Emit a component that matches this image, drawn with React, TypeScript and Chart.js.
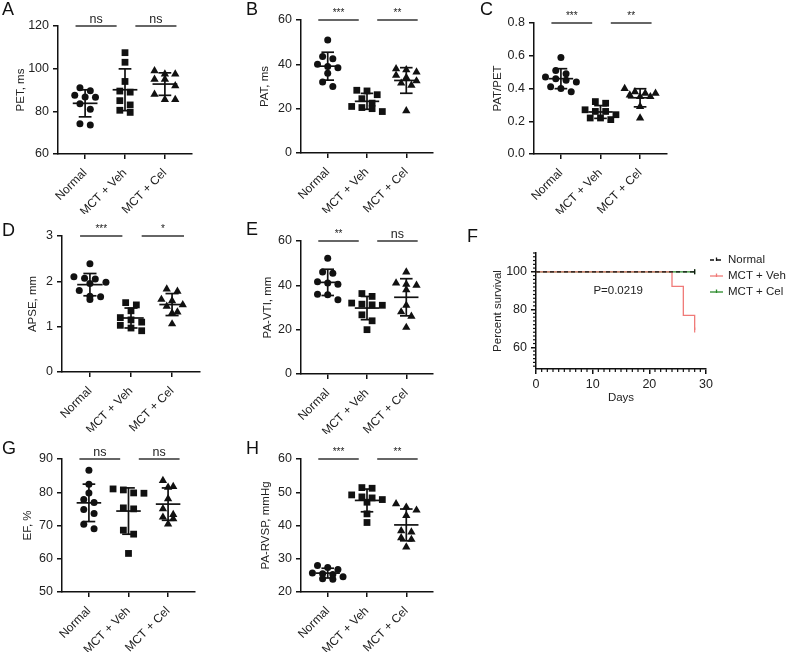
import React, { useEffect, useRef } from "react";
import { Chart, registerables } from "chart.js";

Chart.register(...registerables);

// ---------------- data ----------------
const GROUPS = ["Normal", "MCT + Veh", "MCT + Cel"];

const PET_NORMAL = [91.1, 89.6, 87.5, 86.7, 86.6, 83.5, 81.0, 74.2, 73.6];
const PET_VEH = [107.5, 103, 94, 89.5, 89, 85, 83, 80.5, 79.5];
const PET_CEL = [99, 97.5, 97.5, 95, 95, 92, 88, 85.5, 85.5];
const PET_TICKS = [60, 80, 100, 120];
const PET_SIG = ["ns", "ns"];

const PAT_NORMAL = [51, 43.5, 42.5, 40, 39, 38.5, 36, 32, 30];
const PAT_VEH = [28.3, 28, 26.3, 24.5, 22.5, 21, 20.5, 20, 18.7];
const PAT_CEL = [38, 37.5, 36.5, 35, 34, 32.5, 31.5, 30.5, 19];
const PAT_TICKS = [0, 20, 40, 60];
const PAT_SIG = ["***", "**"];

const RATIO_NORMAL = [0.59, 0.51, 0.49, 0.47, 0.46, 0.45, 0.44, 0.41, 0.4, 0.38];
const RATIO_VEH = [0.32, 0.31, 0.27, 0.26, 0.26, 0.24, 0.22, 0.22, 0.21];
const RATIO_CEL = [0.4, 0.38, 0.37, 0.37, 0.36, 0.35, 0.35, 0.29, 0.22];
const RATIO_TICKS = [0, 0.2, 0.4, 0.6, 0.8];
const RATIO_SIG = ["***", "**"];

const APSE_NORMAL = [2.39, 2.1, 2.07, 2.05, 1.98, 1.95, 1.8, 1.67, 1.66, 1.6];
const APSE_VEH = [1.53, 1.48, 1.35, 1.2, 1.15, 1.1, 1.03, 0.97, 0.91];
const APSE_CEL = [1.83, 1.78, 1.6, 1.57, 1.48, 1.45, 1.32, 1.3, 1.06];
const APSE_TICKS = [0, 1, 2, 3];
const APSE_SIG = ["***", "*"];

const VTI_NORMAL = [52.2, 46, 45.5, 41.6, 41, 40.5, 36, 35.7, 33.5];
const VTI_VEH = [36.3, 35, 32, 31.5, 31.2, 31, 26.7, 24, 20];
const VTI_CEL = [46, 41, 40.5, 40, 38, 31, 28, 26, 21];
const VTI_TICKS = [0, 20, 40, 60];
const VTI_SIG = ["**", "ns"];

const EF_NORMAL = [86.6, 82.4, 79.8, 77.8, 76.9, 74.8, 73.6, 70.4, 69];
const EF_VEH = [81, 80.7, 79.8, 79.7, 75.3, 75, 68.6, 67.4, 61.6];
const EF_CEL = [83.5, 81.7, 81.5, 78, 75, 73.3, 72.5, 72, 70.4];
const EF_TICKS = [50, 60, 70, 80, 90];
const EF_SIG = ["ns", "ns"];

const RVSP_NORMAL = [28, 27.4, 26.8, 25.7, 25.5, 25.3, 24.6, 24, 23.8];
const RVSP_VEH = [51.4, 51.2, 49.2, 48.6, 48.3, 47.8, 47, 43.5, 40.9];
const RVSP_CEL = [46.5, 45.5, 44.6, 43, 38.4, 38, 36.3, 35.8, 33.5];
const RVSP_TICKS = [20, 30, 40, 50, 60];
const RVSP_SIG = ["***", "**"];

// survival (panel F)
const SURV_LABELS = ["Normal", "MCT + Veh", "MCT + Cel"];
const NORMAL_DAYS = [0, 28];
const NORMAL_SURVIVAL = [100, 100];
const VEH_DAYS = [0, 24, 26, 28];
const VEH_SURVIVAL = [100, 92.3, 76.9, 69.2];
const CEL_DAYS = [0, 28];
const CEL_SURVIVAL = [100, 100];
const DAY_TICKS = [0, 10, 20, 30];
const PCT_TICKS = [60, 80, 100];
const DAY_MINOR_STEP = 1;
const PCT_MINOR_STEP = 2;
const PCT_RANGE = [48.5, 110];
const P_TEXT = "P=0.0219";

// ---------------- style / layout ----------------
const W = 786;
const H = 652;
const FONT = '"Liberation Sans", Arial, Helvetica, sans-serif';
const INK = "#111111";
const TEXT = "#222222";
const RED = "#f07a78";
const GREEN = "#2b8a2b";
const X_RANGE = [-0.68, 2.68];
const X_AXIS_H = 60;
const MARKERS = [
  { style: "circle", r: 3.5 },
  { style: "rect", r: 4.8 },
  { style: "triangle", r: 4.8 },
];
const SIG_SPANS = [
  [-0.24, 0.79],
  [1.26, 2.29],
];
const TITLE_OFF = 10.6;

type DotSpec = {
  letter: string;
  letterPos: [number, number];
  area: [number, number, number, number];
  titleX: number;
  title: string;
  ticks: number[];
  decimals: number;
  groups: number[][];
  sig: string[];
};

const DOT_PANELS: DotSpec[] = [
  { letter: "A", letterPos: [2, 1], area: [58, 26, 192, 154], titleX: 21, title: "PET, ms", ticks: PET_TICKS, decimals: 0, groups: [PET_NORMAL, PET_VEH, PET_CEL], sig: PET_SIG },
  { letter: "B", letterPos: [246, 1], area: [301, 20, 433, 153], titleX: 265, title: "PAT, ms", ticks: PAT_TICKS, decimals: 0, groups: [PAT_NORMAL, PAT_VEH, PAT_CEL], sig: PAT_SIG },
  { letter: "C", letterPos: [480, 1], area: [534, 23, 667, 154], titleX: 498, title: "PAT/PET", ticks: RATIO_TICKS, decimals: 1, groups: [RATIO_NORMAL, RATIO_VEH, RATIO_CEL], sig: RATIO_SIG },
  { letter: "D", letterPos: [2, 222], area: [62, 236, 200, 372], titleX: 33, title: "APSE, mm", ticks: APSE_TICKS, decimals: 0, groups: [APSE_NORMAL, APSE_VEH, APSE_CEL], sig: APSE_SIG },
  { letter: "E", letterPos: [246, 221], area: [301, 241, 433, 374], titleX: 268, title: "PA-VTI, mm", ticks: VTI_TICKS, decimals: 0, groups: [VTI_NORMAL, VTI_VEH, VTI_CEL], sig: VTI_SIG },
  { letter: "G", letterPos: [2, 440], area: [62, 459, 195, 592], titleX: 28, title: "EF, %", ticks: EF_TICKS, decimals: 0, groups: [EF_NORMAL, EF_VEH, EF_CEL], sig: EF_SIG },
  { letter: "H", letterPos: [246, 440], area: [301, 459, 433, 592], titleX: 266, title: "PA-RVSP, mmHg", ticks: RVSP_TICKS, decimals: 0, groups: [RVSP_NORMAL, RVSP_VEH, RVSP_CEL], sig: RVSP_SIG },
];

const F_AREA = [536, 253, 706, 369];
const F_TITLE_X = 498;
const F_X_AXIS_H = 36;
const F_LETTER: [number, number] = [467, 228];
const P_LABEL_AT = { day: 14.5, pct: 90 };

Chart.defaults.font.family = FONT;
Chart.defaults.color = TEXT;

// ---------------- helpers ----------------
const mean = (v: number[]) => v.reduce((a, b) => a + b, 0) / v.length;
const sd = (v: number[]) => {
  const m = mean(v);
  return Math.sqrt(v.reduce((a, b) => a + (b - m) * (b - m), 0) / (v.length - 1));
};

function swarmOffsets(vals: number[], valPerPx: number): number[] {
  const minGap = 6.5 * valPerPx;
  const idx = vals.map((_, i) => i).sort((a, b) => vals[b] - vals[a]);
  const out = new Array(vals.length).fill(0);
  let row: number[] = [];
  const flush = () => {
    row.forEach((id, j) => {
      out[id] = (j - (row.length - 1) / 2) * 0.26;
    });
    row = [];
  };
  for (const id of idx) {
    if (row.length && (vals[row[0]] - vals[id] >= minGap || row.length >= 4)) flush();
    row.push(id);
  }
  flush();
  return out;
}

function seg(ctx: CanvasRenderingContext2D, x1: number, y1: number, x2: number, y2: number) {
  ctx.beginPath();
  ctx.moveTo(x1, y1);
  ctx.lineTo(x2, y2);
  ctx.stroke();
}

const axisGrid = { drawOnChartArea: false, drawTicks: true, tickLength: 5, color: INK, lineWidth: 1.5 };
const axisBorder = { display: true, color: INK, width: 1.5 };

function dotConfig(spec: DotSpec): any {
  const [l, t, r, b] = spec.area;
  const yMin = spec.ticks[0];
  const yMax = spec.ticks[spec.ticks.length - 1];
  const valPerPx = (yMax - yMin) / (b - t);
  const datasets = spec.groups.map((vals, i) => {
    const offs = swarmOffsets(vals, valPerPx);
    return {
      label: GROUPS[i],
      data: vals.map((v, j) => ({ x: i + offs[j], y: v })),
      pointStyle: MARKERS[i].style,
      pointRadius: MARKERS[i].r,
      backgroundColor: INK,
      borderColor: INK,
      pointBorderWidth: 0,
    };
  });
  const plugin = {
    id: "dotExtras",
    afterDatasetsDraw(chart: any) {
      const ctx: CanvasRenderingContext2D = chart.ctx;
      const xs = chart.scales.x;
      const ys = chart.scales.y;
      ctx.save();
      ctx.strokeStyle = INK;
      ctx.lineWidth = 1.7;
      spec.groups.forEach((vals, i) => {
        const m = mean(vals);
        const s = sd(vals);
        const pm = ys.getPixelForValue(m);
        const pt = ys.getPixelForValue(m + s);
        const pb = ys.getPixelForValue(m - s);
        seg(ctx, xs.getPixelForValue(i - 0.31), pm, xs.getPixelForValue(i + 0.31), pm);
        seg(ctx, xs.getPixelForValue(i), pt, xs.getPixelForValue(i), pb);
        seg(ctx, xs.getPixelForValue(i - 0.16), pt, xs.getPixelForValue(i + 0.16), pt);
        seg(ctx, xs.getPixelForValue(i - 0.16), pb, xs.getPixelForValue(i + 0.16), pb);
      });
      const yb = ys.getPixelForValue(ys.max);
      ctx.strokeStyle = "#333";
      ctx.lineWidth = 1.5;
      SIG_SPANS.forEach(([a, bb], k) => {
        const x1 = xs.getPixelForValue(a);
        const x2 = xs.getPixelForValue(bb);
        seg(ctx, x1, yb, x2, yb);
        const label = spec.sig[k];
        const star = label.indexOf("*") >= 0;
        ctx.font = `${star ? 10 : 12.5}px ${FONT}`;
        ctx.fillStyle = TEXT;
        ctx.textAlign = "center";
        ctx.textBaseline = "alphabetic";
        ctx.fillText(label, (x1 + x2) / 2, yb - (star ? 4 : 3));
      });
      ctx.font = `18px ${FONT}`;
      ctx.fillStyle = "#111";
      ctx.textAlign = "left";
      ctx.textBaseline = "top";
      ctx.fillText(spec.letter, spec.letterPos[0], spec.letterPos[1]);
      ctx.restore();
    },
  };
  return {
    type: "scatter",
    data: { datasets },
    plugins: [plugin],
    options: {
      animation: false,
      responsive: false,
      devicePixelRatio: 1,
      events: [],
      layout: {
        padding: { left: spec.titleX - TITLE_OFF, top: t, right: W - r, bottom: H - b - X_AXIS_H },
      },
      plugins: { legend: { display: false }, tooltip: { enabled: false } },
      scales: {
        x: {
          type: "linear",
          min: X_RANGE[0],
          max: X_RANGE[1],
          afterBuildTicks: (s: any) => {
            s.ticks = GROUPS.map((_, i) => ({ value: i }));
          },
          afterFit: (s: any) => {
            s.height = X_AXIS_H;
          },
          ticks: {
            autoSkip: false,
            minRotation: 45,
            maxRotation: 45,
            padding: 7,
            color: TEXT,
            font: { size: 12 },
            callback: (v: any) => GROUPS[Math.round(Number(v))] ?? "",
          },
          grid: axisGrid,
          border: axisBorder,
        },
        y: {
          type: "linear",
          min: yMin,
          max: yMax,
          afterBuildTicks: (s: any) => {
            s.ticks = spec.ticks.map((v) => ({ value: v }));
          },
          afterFit: (s: any) => {
            s.width = l - (spec.titleX - TITLE_OFF);
          },
          ticks: {
            padding: 4,
            color: TEXT,
            font: { size: 12.5 },
            callback: (v: any) => Number(v).toFixed(spec.decimals),
          },
          grid: axisGrid,
          border: axisBorder,
          title: { display: true, text: spec.title, color: TEXT, font: { size: 11.5 }, padding: { top: 4, bottom: 4 } },
        },
      },
    },
  };
}

function survivalConfig(): any {
  const series = [
    { label: SURV_LABELS[0], days: NORMAL_DAYS, surv: NORMAL_SURVIVAL, color: INK, dash: [4, 3] },
    { label: SURV_LABELS[1], days: VEH_DAYS, surv: VEH_SURVIVAL, color: RED, dash: [] },
    { label: SURV_LABELS[2], days: CEL_DAYS, surv: CEL_SURVIVAL, color: GREEN, dash: [] },
  ];
  const datasets = series.map((d) => ({
    label: d.label,
    data: d.days.map((x, i) => ({ x, y: d.surv[i] })),
    borderColor: d.color,
    backgroundColor: d.color,
    borderDash: d.dash,
    borderWidth: 1.3,
    stepped: "before",
    fill: false,
    pointStyle: "line",
    pointRotation: 90,
    pointRadius: (c: any) => (c.dataIndex === d.days.length - 1 ? 2.5 : 0),
    pointBorderColor: d.color,
    pointBorderWidth: 1.2,
  }));
  const [l, t, r, b] = F_AREA;
  const plugin = {
    id: "survExtras",
    afterDraw(chart: any) {
      const ctx: CanvasRenderingContext2D = chart.ctx;
      const xs = chart.scales.x;
      const ys = chart.scales.y;
      const area = chart.chartArea;
      ctx.save();
      ctx.strokeStyle = INK;
      ctx.lineWidth = 1.2;
      for (let d = xs.min; d <= xs.max; d += DAY_MINOR_STEP) {
        if (DAY_TICKS.indexOf(d) >= 0) continue;
        const px = xs.getPixelForValue(d);
        seg(ctx, px, area.bottom, px, area.bottom + 3);
      }
      for (let p = 50; p <= ys.max; p += PCT_MINOR_STEP) {
        if (PCT_TICKS.indexOf(p) >= 0) continue;
        const py = ys.getPixelForValue(p);
        seg(ctx, area.left - 3, py, area.left, py);
      }
      // p value
      ctx.fillStyle = TEXT;
      ctx.font = `11.5px ${FONT}`;
      ctx.textAlign = "center";
      ctx.textBaseline = "middle";
      ctx.fillText(P_TEXT, xs.getPixelForValue(P_LABEL_AT.day), ys.getPixelForValue(P_LABEL_AT.pct));
      // legend
      chart.data.datasets.forEach((ds: any, k: number) => {
        const yy = area.top + 7 + k * 16;
        const x0 = area.right + 4;
        ctx.strokeStyle = ds.borderColor;
        ctx.lineWidth = 1.3;
        ctx.setLineDash(ds.borderDash || []);
        seg(ctx, x0, yy, x0 + 13, yy);
        ctx.setLineDash([]);
        seg(ctx, x0 + 6.5, yy - 2.5, x0 + 6.5, yy + 1);
        ctx.fillStyle = TEXT;
        ctx.font = `11.5px ${FONT}`;
        ctx.textAlign = "left";
        ctx.textBaseline = "middle";
        ctx.fillText(ds.label, x0 + 18, yy);
      });
      ctx.font = `18px ${FONT}`;
      ctx.fillStyle = "#111";
      ctx.textAlign = "left";
      ctx.textBaseline = "top";
      ctx.fillText("F", F_LETTER[0], F_LETTER[1]);
      ctx.restore();
    },
  };
  return {
    type: "line",
    data: { datasets },
    plugins: [plugin],
    options: {
      animation: false,
      responsive: false,
      devicePixelRatio: 1,
      events: [],
      layout: { padding: { left: F_TITLE_X - TITLE_OFF, top: t, right: W - r, bottom: H - b - F_X_AXIS_H } },
      plugins: { legend: { display: false }, tooltip: { enabled: false } },
      scales: {
        x: {
          type: "linear",
          min: DAY_TICKS[0],
          max: DAY_TICKS[DAY_TICKS.length - 1],
          afterBuildTicks: (s: any) => {
            s.ticks = DAY_TICKS.map((v) => ({ value: v }));
          },
          afterFit: (s: any) => {
            s.height = F_X_AXIS_H;
          },
          ticks: { padding: 3, color: TEXT, font: { size: 12.5 }, maxRotation: 0 },
          grid: axisGrid,
          border: axisBorder,
          title: { display: true, text: "Days", color: TEXT, font: { size: 11.5 }, padding: { top: 0, bottom: 0 } },
        },
        y: {
          type: "linear",
          min: PCT_RANGE[0],
          max: PCT_RANGE[1],
          afterBuildTicks: (s: any) => {
            s.ticks = PCT_TICKS.map((v) => ({ value: v }));
          },
          afterFit: (s: any) => {
            s.width = l - (F_TITLE_X - TITLE_OFF);
          },
          ticks: { padding: 4, color: TEXT, font: { size: 12.5 } },
          grid: axisGrid,
          border: axisBorder,
          title: { display: true, text: "Percent survival", color: TEXT, font: { size: 11.5 }, padding: { top: 4, bottom: 4 } },
        },
      },
    },
  };
}

export default function App() {
  const refs = useRef<(HTMLCanvasElement | null)[]>([]);
  const count = DOT_PANELS.length + 1;
  useEffect(() => {
    const configs = [...DOT_PANELS.map(dotConfig), survivalConfig()];
    const charts = configs.map((cfg, i) => new Chart(refs.current[i] as HTMLCanvasElement, cfg));
    return () => charts.forEach((c) => c.destroy());
  }, []);
  return (
    <div style={{ position: "fixed", left: 0, top: 0, width: W, height: H, background: "#fff" }}>
      {Array.from({ length: count }).map((_, i) => (
        <canvas
          key={i}
          ref={(el) => {
            refs.current[i] = el;
          }}
          width={W}
          height={H}
          style={{ position: "absolute", left: 0, top: 0, width: W, height: H }}
        />
      ))}
    </div>
  );
}
